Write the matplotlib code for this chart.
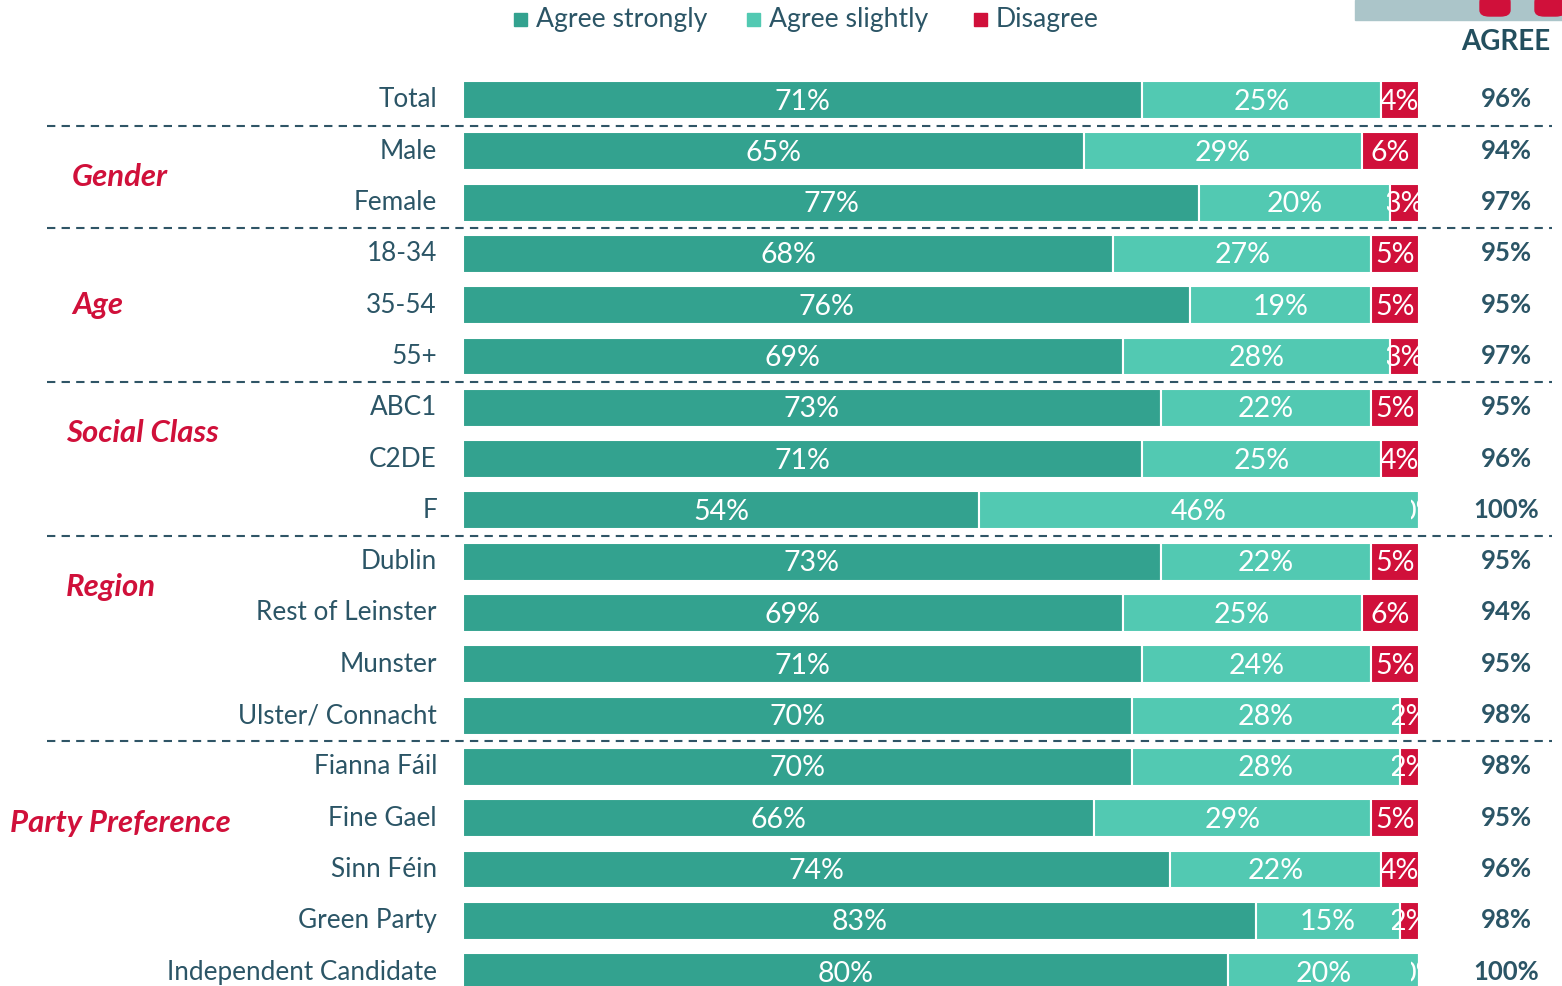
import matplotlib.pyplot as plt
from matplotlib.patches import Rectangle, FancyBboxPatch
from matplotlib.transforms import Bbox, TransformedBbox
import numpy as np

plt.rcParams['font.family'] = ['Lato', 'DejaVu Sans']

rows = ['Total', 'Male', 'Female', '18-34', '35-54', '55+', 'ABC1', 'C2DE', 'F',
        'Dublin', 'Rest of Leinster', 'Munster', 'Ulster/ Connacht',
        'Fianna Fáil', 'Fine Gael', 'Sinn Féin', 'Green Party', 'Independent Candidate']
strongly = [71, 65, 77, 68, 76, 69, 73, 71, 54, 73, 69, 71, 70, 70, 66, 74, 83, 80]
slightly = [25, 29, 20, 27, 19, 28, 22, 25, 46, 22, 25, 24, 28, 28, 29, 22, 15, 20]
disagree = [4, 6, 3, 5, 5, 3, 5, 4, 0, 5, 6, 5, 2, 2, 5, 4, 2, 0]
agree_total = [96, 94, 97, 95, 95, 97, 95, 96, 100, 95, 94, 95, 98, 98, 95, 96, 98, 100]

groups = ['Gender', 'Age', 'Social Class', 'Region', 'Party Preference']
group_pos = [1.5, 4, 6.5, 9.5, 14.1]
group_x = [72, 72, 66, 66, 10]
separators = [0.5, 2.5, 5.5, 8.5, 12.5]

series_names = ['Agree strongly', 'Agree slightly', 'Disagree']
c_strong, c_slight, c_dis = '#33a28f', '#52c9b2', '#d0103a'
txt = '#2b5566'

W, H = 1562, 986
fig = plt.figure(figsize=(W / 100, H / 100), dpi=100)
pitch = 51.3
x0, x1 = 463, 1419
ax = fig.add_axes([x0 / W, 0, (x1 - x0) / W, 1])
ax.set_xlim(0, 100)
ax.set_ylim((H - 100) / pitch, -100 / pitch)
ax.axis('off')

def ax_x(px):
    return (px - x0) / (x1 - x0)

y = np.arange(len(rows))
h = 0.74
left2 = np.array(strongly)
left3 = left2 + np.array(slightly)
ax.barh(y, strongly, height=h, color=c_strong, edgecolor='white', linewidth=1.5)
ax.barh(y, slightly, left=left2, height=h, color=c_slight, edgecolor='white', linewidth=1.5)
ax.barh(y, disagree, left=left3, height=h, color=c_dis, edgecolor='white', linewidth=1.5)

for i in range(len(rows)):
    ax.text(strongly[i] / 2, i + 0.03, f'{strongly[i]}%', ha='center', va='center',
            color='white', fontsize=20.5)
    ax.text(left2[i] + slightly[i] / 2, i + 0.03, f'{slightly[i]}%', ha='center',
            va='center', color='white', fontsize=20.5)
    # small disagree labels overflow the segment and get cut at the bar end
    t = ax.text(left3[i] + disagree[i] / 2, i + 0.03, f'{disagree[i]}%', ha='center',
                va='center', color='white', fontsize=20.5)
    margin = 0.8 if disagree[i] <= 2 else 0.3
    clip = TransformedBbox(Bbox([[left3[i] - margin, i - h / 2], [100, i + h / 2]]),
                           ax.transData)
    t.set_clip_box(clip)
    t.set_clip_on(True)
    # row label
    ax.text(ax_x(437), i, rows[i], ha='right', va='center', color=txt,
            fontsize=18.8, transform=ax.get_yaxis_transform(), clip_on=False)
    ax.text(ax_x(1506), i - 0.01, f'{agree_total[i]}%', ha='center', va='center',
            color=txt, fontsize=18.5, fontweight='bold',
            transform=ax.get_yaxis_transform(), clip_on=False)

for g, gy, gx in zip(groups, group_pos, group_x):
    ax.text(ax_x(gx), gy, g, ha='left', va='center', color=c_dis, fontsize=22.4,
            fontweight='bold', fontstyle='italic',
            transform=ax.get_yaxis_transform(), clip_on=False)

for s in separators:
    ax.plot([ax_x(47), ax_x(1552)], [s, s], color='#2f5566', lw=1.5,
            ls=(0, (4, 3)), transform=ax.get_yaxis_transform(), clip_on=False)

ax.text(ax_x(1506), -1.13, 'AGREE', ha='center', va='center', color='#234f5e',
        fontsize=20, fontweight='bold', transform=ax.get_yaxis_transform(),
        clip_on=False)

# legend
leg_x = [514, 747, 974]
for lx, name, c in zip(leg_x, series_names, [c_strong, c_slight, c_dis]):
    fig.add_artist(Rectangle((lx / W, 1 - 26 / H), 13 / W, 13 / H, color=c,
                             transform=fig.transFigure))
    fig.text((lx + 22) / W, 1 - 19 / H, name, ha='left', va='center', color=txt,
             fontsize=19.2)

# partial logo strip at top right
fig.add_artist(Rectangle((1355 / W, 1 - 20 / H), 210 / W, 20 / H, color='#abc5c9',
                         transform=fig.transFigure))
for rx, rw in [(1480, 30), (1535, 30)]:
    fig.add_artist(FancyBboxPatch((rx / W, 1 - 16 / H), rw / W, 20 / H,
                                  boxstyle='round,pad=0,rounding_size=0.006',
                                  color=c_dis, transform=fig.transFigure))

fig.savefig('out.png', dpi=100)
